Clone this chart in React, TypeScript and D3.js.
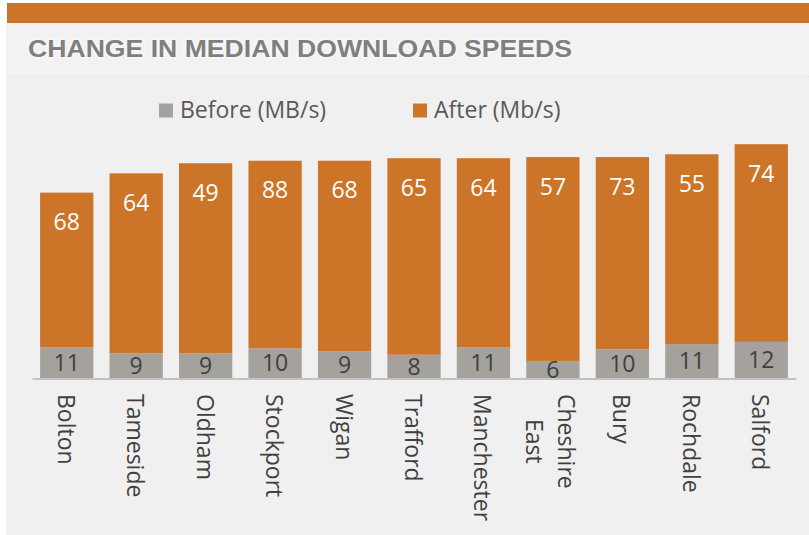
import React, { useEffect, useRef } from "react";
import * as d3 from "d3";

const categories = ["Bolton", "Tameside", "Oldham", "Stockport", "Wigan", "Trafford", "Manchester", "Cheshire East", "Bury", "Rochdale", "Salford"];
const beforeLabels = [11, 9, 9, 10, 9, 8, 11, 6, 10, 11, 12];
const afterLabels = [68, 64, 49, 88, 68, 65, 64, 57, 73, 55, 74];
// drawn segment lengths (same units as the axis)
const beforeBar = [11.0, 8.8, 8.8, 10.6, 9.6, 8.3, 11.0, 6.1, 10.2, 12.1, 12.9];
const afterBar = [55.2, 64.3, 67.9, 67.0, 68.0, 70.2, 67.5, 72.8, 68.7, 67.8, 70.6];
const legendLabels = ["Before (MB/s)", "After (Mb/s)"];
const title = "CHANGE IN MEDIAN DOWNLOAD SPEEDS";

const W = 809;
const H = 535;
const GRAY = "#a5a29e";
const ORANGE = "#cc7428";
const FONT = "'Open Sans', 'Noto Sans', sans-serif";

export default function App() {
  const ref = useRef<SVGSVGElement | null>(null);

  useEffect(() => {
    const svg = d3.select(ref.current);
    svg.selectAll("*").remove();

    // backgrounds
    svg.append("rect").attr("width", W).attr("height", H).attr("fill", "#ffffff");
    svg.append("rect").attr("x", 6).attr("y", 22).attr("width", W - 6).attr("height", H - 22).attr("fill", "#f2f2f2");
    svg.append("rect").attr("x", 6).attr("y", 76).attr("width", W - 6).attr("height", H - 76).attr("fill", "#f0f0f0");
    svg.append("line").attr("x1", 6).attr("x2", W).attr("y1", 76.5).attr("y2", 76.5)
      .attr("stroke", "#e2e2e2").attr("stroke-dasharray", "1,1");
    svg.append("rect").attr("x", 7).attr("y", 3).attr("width", W - 7).attr("height", 20).attr("fill", ORANGE);

    // title
    svg.append("text").attr("x", 28).attr("y", 57).text(title)
      .attr("font-family", "'Liberation Sans', Arial, sans-serif").attr("font-weight", "bold")
      .attr("font-size", 24).attr("fill", "#7f7f7f")
      .attr("textLength", 544).attr("lengthAdjust", "spacingAndGlyphs")
      .attr("stroke", "#fafafa").attr("stroke-width", 3).attr("stroke-opacity", 0.7)
      .attr("paint-order", "stroke");

    // legend
    const legendX = [159, 413];
    const legendColors = [GRAY, ORANGE];
    legendLabels.forEach((lab, i) => {
      svg.append("rect").attr("x", legendX[i]).attr("y", 103.5).attr("width", 14).attr("height", 14).attr("fill", legendColors[i]);
      svg.append("text").attr("x", legendX[i] + 21).attr("y", 118).text(lab)
        .attr("font-family", FONT).attr("font-size", 23).attr("fill", "#595959");
    });

    const x = d3.scaleBand<string>().domain(categories).range([32, 796]).paddingInner(0.233).paddingOuter(0.1165);
    const y = d3.scaleLinear().domain([0, 80]).range([378, 154]);

    const data = categories.map((c, i) => ({ c, b: beforeBar[i], a: afterBar[i], bl: beforeLabels[i], al: afterLabels[i] }));
    const stack = d3.stack<any>().keys(["b", "a"])(data as any);

    const colors = [GRAY, ORANGE];
    stack.forEach((layer, li) => {
      svg.append("g").selectAll("rect").data(layer).join("rect")
        .attr("x", (d: any) => x(d.data.c)!)
        .attr("width", x.bandwidth())
        .attr("y", (d: any) => y(d[1]))
        .attr("height", (d: any) => y(d[0]) - y(d[1]))
        .attr("fill", colors[li]);
    });

    // value labels
    const cx = (c: string) => x(c)! + x.bandwidth() / 2;
    svg.append("g").selectAll("text").data(stack[0]).join("text")
      .attr("x", (d: any) => cx(d.data.c))
      .attr("y", (d: any) => (y(d[0]) + y(d[1])) / 2 + 8.2)
      .attr("text-anchor", "middle").attr("font-family", FONT).attr("font-size", 23).attr("fill", "#404040")
      .text((d: any) => d.data.bl);
    svg.append("g").selectAll("text").data(stack[1]).join("text")
      .attr("x", (d: any) => cx(d.data.c))
      .attr("y", (d: any) => y(d[1]) + 37.5)
      .attr("text-anchor", "middle").attr("font-family", FONT).attr("font-size", 23).attr("fill", "#ffffff")
      .text((d: any) => d.data.al);

    // axis line
    const axis = svg.append("g").attr("transform", "translate(0,378.5)")
      .call(d3.axisBottom(x).tickSize(0).tickFormat(() => ""));
    axis.select(".domain").attr("stroke", "#b3b3b3").attr("stroke-width", 1.5);

    // category labels (rotated 90°)
    categories.forEach((c) => {
      const lines = c === "Cheshire East" ? ["Cheshire", "East"] : [c];
      const g = svg.append("g").attr("transform", `translate(${cx(c)},394) rotate(90)`);
      if (lines.length === 1) {
        g.append("text").attr("x", 0).attr("y", 9).text(c)
          .attr("font-family", FONT).attr("font-size", 23).attr("fill", "#404040");
      } else {
        const texts = lines.map((l, i) =>
          g.append("text").attr("y", -4.7 + i * 32).text(l)
            .attr("font-family", FONT).attr("font-size", 23).attr("fill", "#404040")
            .attr("text-anchor", "middle"));
        const maxW = d3.max(texts, (t) => (t.node() as SVGTextElement).getComputedTextLength()) || 94;
        texts.forEach((t) => t.attr("x", maxW / 2));
      }
    });
  }, []);

  return (
    <svg ref={ref} width={W} height={H} style={{ position: "absolute", left: 0, top: 0 }} />
  );
}
